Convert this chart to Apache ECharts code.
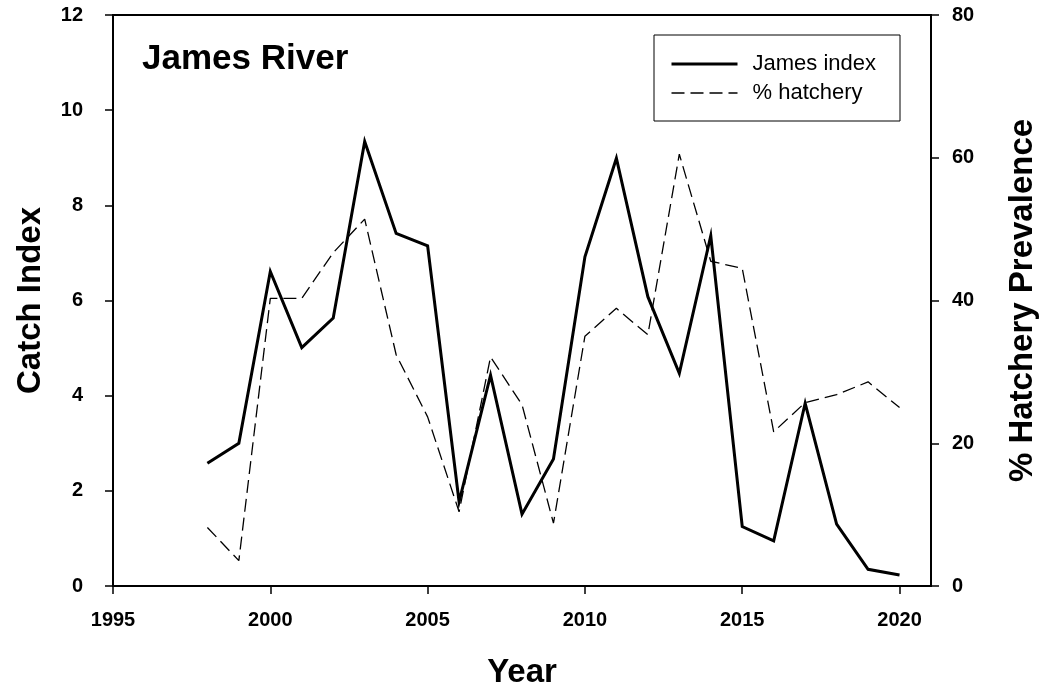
<!DOCTYPE html>
<html>
<head>
<meta charset="utf-8">
<script src="https://cdn.jsdelivr.net/npm/echarts@6/dist/echarts.min.js"></script>
<style>
html,body{margin:0;padding:0;background:#fff;}
#chart{width:1041px;height:694px;}
</style>
</head>
<body>
<div id="chart"></div>
<script>
const years = [1998,1999,2000,2001,2002,2003,2004,2005,2006,2007,2008,2009,2010,2011,2012,2013,2014,2015,2016,2017,2018,2019,2020];
const jamesIndex = [2.58,3.0,6.61,5.01,5.63,9.34,7.41,7.15,1.77,4.43,1.51,2.67,6.92,8.99,6.08,4.47,7.36,1.25,0.95,3.84,1.30,0.35,0.23];
const hatchery = [8.2,3.55,40.3,40.3,46.7,51.4,32.4,23.7,10.4,32.1,25.4,8.8,35.0,38.9,35.2,60.5,45.5,44.5,21.6,25.7,26.8,28.6,25.0];
const xTicks = [1995,2000,2005,2010,2015,2020];
const seriesNames = ['James index','% hatchery'];

const FONT = 'Liberation Sans, Arial, sans-serif';
const chart = echarts.init(document.getElementById('chart'), null, {renderer:'canvas'});
const tickLabel = {fontFamily:FONT, fontWeight:'bold', fontSize:20, color:'#000'};
const nameStyle = {fontFamily:FONT, fontWeight:'bold', fontSize:33, color:'#000'};
const axisLine = {show:true, lineStyle:{color:'#000', width:2}};
const axisTick = {show:true, inside:false, length:8, lineStyle:{color:'#000', width:1.5}};

chart.setOption({
  animation:false,
  backgroundColor:'#fff',
  title:{
    text:'James River', left:137, top:37,
    textStyle:{fontFamily:FONT, fontWeight:'bold', fontSize:35, color:'#000'}
  },
  legend:{
    orient:'vertical', left:654, top:35,
    padding:[18,24,17,16],
    borderColor:'#000', borderWidth:1,
    itemWidth:66, itemHeight:14, itemGap:7,
    itemStyle:{opacity:0},
    textStyle:{fontFamily:FONT, fontSize:22, color:'#000', padding:[0,0,0,10]},
    data:[
      {name:seriesNames[0], lineStyle:{width:3, color:'#000', type:'solid'}},
      {name:seriesNames[1], lineStyle:{width:1.3, color:'#000', type:[13,6]}}
    ]
  },
  grid:{left:113, right:110, top:15, bottom:108, outerBoundsMode:'none', show:true, borderColor:'#000', borderWidth:2, backgroundColor:'transparent'},
  xAxis:{
    type:'value', min:1995, max:2021,
    name:'Year', nameLocation:'middle', nameGap:70, nameTextStyle:nameStyle,
    axisLine:axisLine,
    axisTick:Object.assign({}, axisTick, {customValues:xTicks}),
    axisLabel:Object.assign({}, tickLabel, {margin:24, customValues:xTicks, formatter:v=>String(v)}),
    splitLine:{show:false}
  },
  yAxis:[
    {
      type:'value', min:0, max:12, interval:2, position:'left',
      name:'Catch Index', nameLocation:'middle', nameGap:66, nameRotate:90, nameTextStyle:nameStyle,
      axisLine:axisLine, axisTick:axisTick,
      axisLabel:Object.assign({}, tickLabel, {margin:30}),
      splitLine:{show:false}
    },
    {
      type:'value', min:0, max:80, interval:20, position:'right',
      name:'% Hatchery Prevalence', nameLocation:'middle', nameGap:75, nameRotate:90, nameTextStyle:nameStyle,
      axisLine:axisLine, axisTick:axisTick,
      axisLabel:Object.assign({}, tickLabel, {margin:21}),
      splitLine:{show:false}
    }
  ],
  series:[
    {
      name:seriesNames[0], type:'line', yAxisIndex:0, symbol:'none',
      data:years.map((y,i)=>[y, jamesIndex[i]]),
      lineStyle:{color:'#000', width:3, join:'miter'},
      itemStyle:{color:'#000'}, z:3
    },
    {
      name:seriesNames[1], type:'line', yAxisIndex:1, symbol:'none',
      data:years.map((y,i)=>[y, hatchery[i]]),
      lineStyle:{color:'#000', width:1.3, type:[13,6]},
      itemStyle:{color:'#000'}, z:2
    }
  ]
});
</script>
</body>
</html>
